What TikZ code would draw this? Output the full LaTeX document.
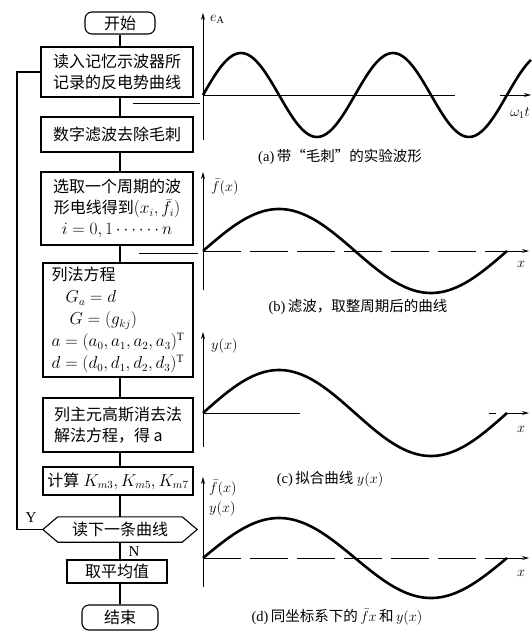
\documentclass[tikz,border=0pt]{standalone}
\usepackage{fontspec}
\setmainfont{Liberation Serif}
\newfontfamily\cjk{Noto Sans CJK SC}
\usetikzlibrary{arrows.meta}
\newcommand\fsbox{\fontsize{16}{21}\selectfont}
\newcommand\fscap{\fontsize{14.5}{17}\selectfont}
\begin{document}
\begin{tikzpicture}[x=1pt,y=-1pt,
  box/.style={draw,line width=1.1pt,minimum width=152pt,align=center,inner sep=2pt,font=\fsbox},
  link/.style={line width=1.1pt},
  curve/.style={line width=2.6pt},
  ax/.style={line width=0.8pt},
  axarrow/.style={line width=0.9pt,-{Stealth[length=7pt,width=4pt]}},
  captext/.style={font=\fscap,inner sep=1pt},
  lbl/.style={font=\fscap,inner sep=1pt}
]
\useasboundingbox (0,0) rectangle (531,637);

% ---------- flowchart ----------
\node[box,minimum width=70pt,minimum height=22pt,rounded corners=7pt] (start) at (120,23) {\cjk 开始};
\node[box,minimum height=50pt] (box2) at (117,72) {\cjk 读入记忆示波器所\\\cjk 记录的反电势曲线};
\node[box,minimum height=35pt] (box3) at (117,134.5) {\cjk 数字滤波去除毛刺};
\node[box,minimum height=73pt] (box4) at (117,208.5) {\cjk 选取一个周期的波\\{\cjk 形电线得到}$(x_i,\bar f_i)$\\$i=0,1\cdots\cdots n$};
\node[box,minimum width=150pt,minimum height=114pt,align=left,font=\fontsize{16}{22}\selectfont] (box5) at (118,320)
 {{\cjk 列法方程}\\\hspace*{14pt}$G_a=d$\\\hspace*{18pt}$G=(g_{kj})$\\$a=(a_0,a_1,a_2,a_3)^{\mathrm T}$\\$d=(d_0,d_1,d_2,d_3)^{\mathrm T}$};
\node[box,minimum width=150pt,minimum height=54pt,align=left] (box6) at (118,425) {\cjk 列主元高斯消去法\\\cjk 解法方程，得 a};
\node[box,minimum width=150pt,minimum height=28pt] (box7) at (118,481) {{\cjk 计算} $K_{m3},K_{m5},K_{m7}$};
\node[minimum width=124pt,minimum height=25pt,inner sep=0pt,font=\fsbox] (hex) at (120,529.5) {\cjk 读下一条曲线};
\draw[link] (hex.north west) -- (hex.north east) -- ([xshift=15pt]hex.east) -- (hex.south east)
  -- (hex.south west) -- ([xshift=-15pt]hex.west) -- cycle;
\node[box,minimum width=100pt,minimum height=23pt] (avg) at (117,571.5) {\cjk 取平均值};
\node[box,minimum width=76pt,minimum height=25pt,rounded corners=7pt] (stop) at (120,617.5) {\cjk 结束};

\draw[link] (start.south) -- (start.south |- box2.north);
\draw[link] (box2.south -| start) -- (box3.north -| start);
\draw[link] (box3.south -| start) -- (box4.north -| start);
\draw[link] (box4.south -| start) -- (box5.north -| start);
\draw[link] (box5.south -| start) -- (box6.north -| start);
\draw[link] (box6.south -| start) -- (box7.north -| start);
\draw[link] (box7.south -| start) -- (hex.north -| start);
\draw[link] (hex.south -| start) -- (avg.north -| start);
\draw[link] (avg.south -| start) -- (stop.north);
\coordinate (loopx) at (17,0);
\draw[link] ([xshift=-15pt]hex.west) -| (loopx |- box2.west) -- (box2.west);
\node[lbl,font=\fontsize{15}{17}\selectfont] (ylab) at (31,518) {Y};
\node[lbl,font=\fontsize{15}{17}\selectfont] (nlab) at (134,552) {N};

% small marks between chart and graphs
\coordinate (m1a) at (133,103); \coordinate (m1b) at (200,103);
\coordinate (m2a) at (139,253); \coordinate (m2b) at (198,253);
\draw[ax] (m1a) -- (m1b);
\draw[ax] (m2a) -- (m2b);

% ---------- graph (a) ----------
\coordinate (oa) at (203,95);
\draw[axarrow] (203,140) -- (203,13);
\node[lbl,anchor=west] (ea) at (209,19) {$e_{\mathrm A}$};
\draw[ax] (oa) -- (455,95);
\draw[axarrow] (500,95) -- (531,95);
\node[lbl,anchor=east] (wt) at (531,113) {$\omega_1 t$};
\draw[curve] plot[domain=203:531,samples=120] (\x,{95-42*sin((\x-203)/152*360)});
\node[captext] (capa) at (340,157) {(a)\,{\cjk 带“毛刺”的实验波形}};

% ---------- graph (b) ----------
\draw[axarrow] (203,290) -- (203,172);
\node[lbl,anchor=west] (fb) at (210,187) {$\bar f(x)$};
\draw[axarrow,dash pattern=on 38pt off 9pt] (203,251) -- (529,251);
\node[lbl] (xb) at (521,264) {$x$};
\draw[curve] plot[domain=203:507,samples=100] (\x,{251-42*sin((\x-203)/304*360)});
\node[captext] (capb) at (358,307) {(b)\,{\cjk 滤波，取整周期后的曲线}};

% ---------- graph (c) ----------
\draw[axarrow] (203,447) -- (203,332);
\node[lbl,anchor=west] (yc) at (210,346) {$y(x)$};
\draw[ax] (203,413) -- (300,413);
\draw[ax] (489,413) -- (496,413);
\draw[axarrow] (505,413) -- (529,413);
\node[lbl] (xc) at (521,429) {$x$};
\draw[curve] plot[domain=203:507,samples=100] (\x,{413-43*sin((\x-203)/304*360)});
\node[captext] (capc) at (330,479) {(c)\,{\cjk 拟合曲线} $y(x)$};

% ---------- graph (d) ----------
\draw[axarrow] (203,587) -- (203,477);
\node[lbl,anchor=west] (fd) at (208,488) {$\bar f(x)$};
\node[lbl,anchor=west] (yd) at (208,509) {$y(x)$};
\draw[axarrow,dash pattern=on 38pt off 9pt] (203,558) -- (529,558);
\node[lbl] (xd) at (521,573) {$x$};
\draw[curve] plot[domain=203:507,samples=100] (\x,{558-40*sin((\x-203)/304*360)});
\node[captext] (capd) at (337,617) {(d)\,{\cjk 同坐标系下的}\,$\bar f x$\,{\cjk 和}\,$y(x)$};
\end{tikzpicture}
\end{document}
